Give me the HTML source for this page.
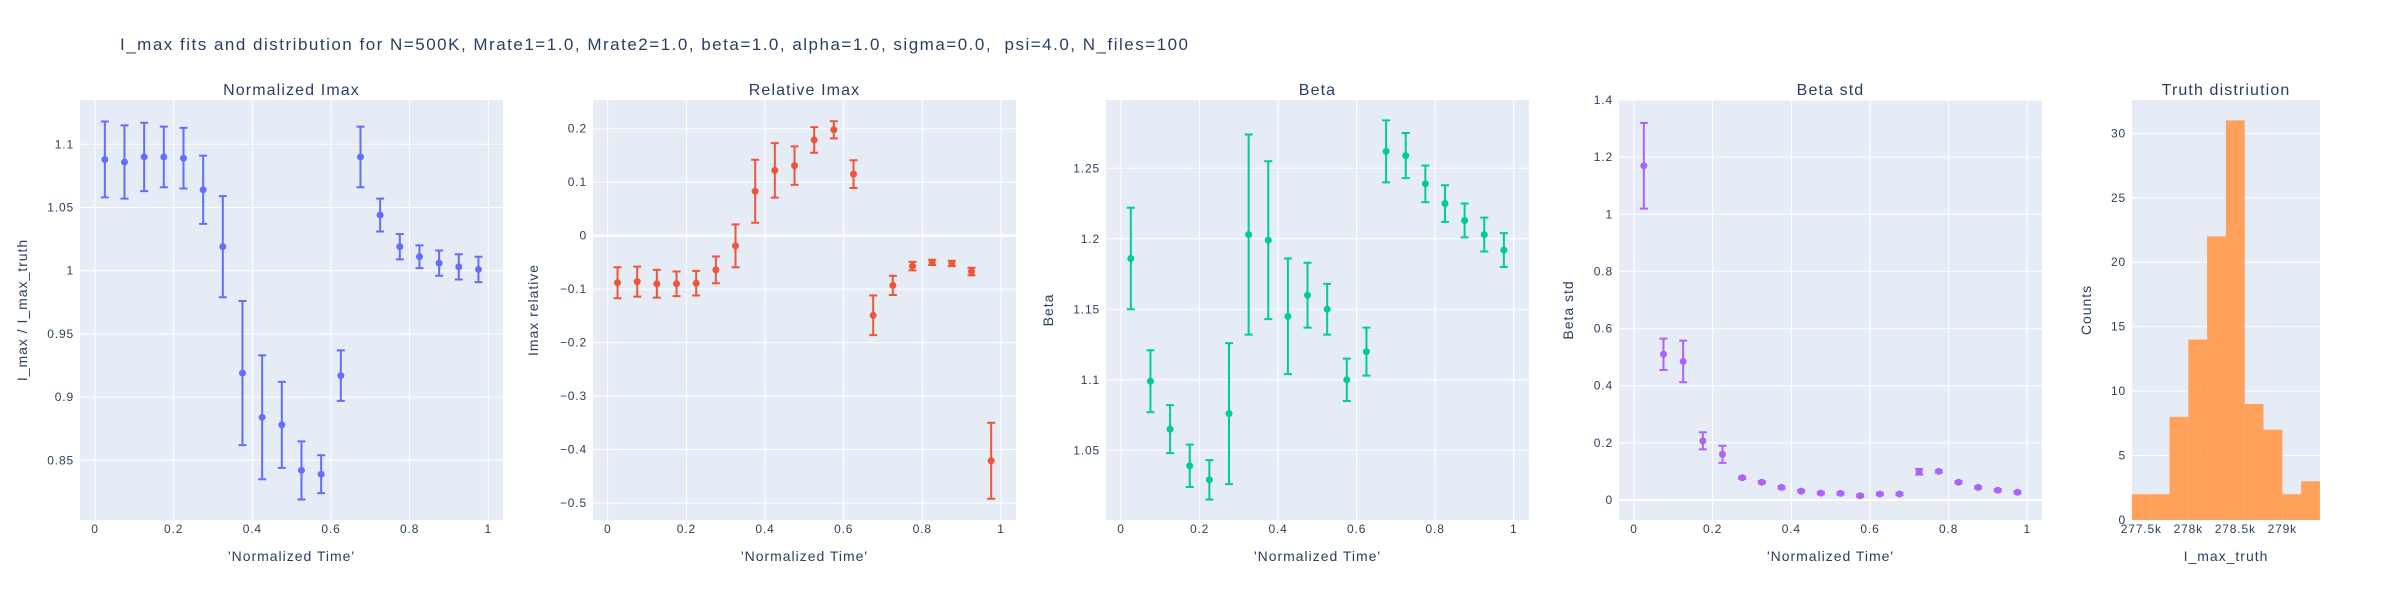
<!DOCTYPE html>
<html><head><meta charset="utf-8"><title>I_max fits</title>
<style>
html,body{margin:0;padding:0;background:#fff;}
svg{display:block;font-family:"Liberation Sans",Arial,sans-serif;}
svg text{letter-spacing:0.07em;}
svg text.main-title{letter-spacing:1.5px;}
</style></head>
<body>
<svg id="chart" width="2400" height="600" viewBox="0 0 2400 600" xmlns="http://www.w3.org/2000/svg">
<text class="main-title" xml:space="preserve" style="white-space:pre" x="120" y="50" font-size="17" fill="#2a3f5f">I_max fits and distribution for N=500K, Mrate1=1.0, Mrate2=1.0, beta=1.0, alpha=1.0, sigma=0.0,  psi=4.0, N_files=100</text>
</svg>
<script>
const timeX = [0.025,0.075,0.125,0.175,0.225,0.275,0.325,0.375,0.425,0.475,0.525,0.575,0.625,0.675,0.725,0.775,0.825,0.875,0.925,0.975];
const normVals = [1.088,1.086,1.090,1.090,1.089,1.064,1.019,0.919,0.884,0.878,0.842,0.839,0.917,1.090,1.044,1.019,1.011,1.006,1.003,1.001];
const normErrs = [0.030,0.029,0.027,0.024,0.024,0.027,0.040,0.057,0.049,0.034,0.023,0.015,0.020,0.024,0.013,0.010,0.009,0.010,0.010,0.010];
const relVals = [-0.088,-0.086,-0.090,-0.090,-0.089,-0.064,-0.019,0.083,0.122,0.131,0.179,0.198,0.115,-0.149,-0.093,-0.057,-0.050,-0.052,-0.067,-0.421];
const relErrs = [0.029,0.028,0.026,0.023,0.023,0.025,0.040,0.059,0.051,0.036,0.024,0.016,0.026,0.037,0.018,0.008,0.005,0.005,0.007,0.071];
const betaVals = [1.186,1.099,1.065,1.039,1.029,1.076,1.203,1.199,1.145,1.160,1.150,1.100,1.120,1.262,1.259,1.239,1.225,1.213,1.203,1.192];
const betaErrs = [0.036,0.022,0.017,0.015,0.014,0.050,0.071,0.056,0.041,0.023,0.018,0.015,0.017,0.022,0.016,0.013,0.013,0.012,0.012,0.012];
const stdVals = [1.17,0.51,0.485,0.207,0.16,0.078,0.062,0.044,0.031,0.024,0.023,0.015,0.021,0.021,0.099,0.100,0.062,0.044,0.034,0.027];
const stdErrs = [0.15,0.055,0.073,0.03,0.03,0.004,0.004,0.004,0.004,0.004,0.004,0.004,0.004,0.004,0.010,0.004,0.004,0.004,0.004,0.004];
const histEdges = [277400,277600,277800,278000,278200,278400,278600,278800,279000,279200,279400];
const histCounts = [2,2,8,14,22,31,9,7,2,3];
const timeTicks = [0,0.2,0.4,0.6,0.8,1];
const timeTickLabels = ["0","0.2","0.4","0.6","0.8","1"];
const normTicks = [0.85,0.9,0.95,1,1.05,1.1];
const normTickLabels = ["0.85","0.9","0.95","1","1.05","1.1"];
const relTicks = [-0.5,-0.4,-0.3,-0.2,-0.1,0,0.1,0.2];
const relTickLabels = ["\u22120.5","\u22120.4","\u22120.3","\u22120.2","\u22120.1","0","0.1","0.2"];
const betaTicks = [1.05,1.1,1.15,1.2,1.25];
const betaTickLabels = ["1.05","1.1","1.15","1.2","1.25"];
const stdTicks = [0,0.2,0.4,0.6,0.8,1,1.2,1.4];
const stdTickLabels = ["0","0.2","0.4","0.6","0.8","1","1.2","1.4"];
const histXTicks = [277500,278000,278500,279000];
const histXTickLabels = ["277.5k","278k","278.5k","279k"];
const histYTicks = [0,5,10,15,20,25,30];
const histYTickLabels = ["0","5","10","15","20","25","30"];

const NS="http://www.w3.org/2000/svg";
const svg=document.getElementById('chart');
function mk(tag,attrs,parent){const e=document.createElementNS(NS,tag);for(const k in attrs)e.setAttribute(k,attrs[k]);(parent||svg).appendChild(e);return e;}
function lin(d0,d1,r0,r1){return v=>r0+(v-d0)/(d1-d0)*(r1-r0);}

function panel(cfg){
  const g=mk('g',{});
  
  
  const bg=mk('rect',{x:cfg.l,y:100,width:cfg.r-cfg.l,height:420,fill:'#e5ecf6'},g);
  
  
  const sx=lin(cfg.xd[0],cfg.xd[1],cfg.xr[0],cfg.xr[1]);
  const sy=lin(cfg.yd[0],cfg.yd[1],cfg.yr[0],cfg.yr[1]);
  cfg.xTicks.forEach((t,i)=>{
    const x=sx(t);
    if(cfg.xgrid){const l=mk('line',{x1:x,x2:x,y1:100,y2:520,stroke:'#fff','stroke-width':1},g);
      
      }
    const tx=mk('text',{x:x,y:533,'font-size':12,fill:'#2a3f5f','text-anchor':'middle'},g);
    tx.textContent=cfg.xLabels[i];
    
    
  });
  cfg.yTicks.forEach((t,i)=>{
    const y=sy(t);
    const l=mk('line',{x1:cfg.l,x2:cfg.r,y1:y,y2:y,stroke:'#fff','stroke-width':(t===0&&cfg.zero)?2:1},g);
    
    
    const tx=mk('text',{x:cfg.l-6,y:y+4,'font-size':12,fill:'#2a3f5f','text-anchor':'end'},g);
    tx.textContent=cfg.yLabels[i];
    
    
  });
  const st=mk('text',{x:(cfg.l+cfg.r)/2,y:95,'font-size':16,fill:'#2a3f5f','text-anchor':'middle'},g);
  st.textContent=cfg.title;
  
  
  const xt=mk('text',{x:(cfg.l+cfg.r)/2,y:561,'font-size':14,fill:'#2a3f5f','text-anchor':'middle'},g);
  xt.textContent=cfg.xTitle;
  
  
  const yt=mk('text',{x:0,y:0,'font-size':14,fill:'#2a3f5f','text-anchor':'middle',transform:`translate(${cfg.ytx},310) rotate(-90)`},g);
  yt.textContent=cfg.yTitle;
  
  
  return {g,sx,sy};
}

function errPanel(cfg,vals,errs,color){
  const p=panel(cfg);
  timeX.forEach((xv,i)=>{
    const x=p.sx(xv),yc=p.sy(vals[i]),y1=p.sy(vals[i]+errs[i]),y2=p.sy(vals[i]-errs[i]);
    const e=mk('path',{d:`M${x},${y1}V${y2}M${x-4},${y1}H${x+4}M${x-4},${y2}H${x+4}`,stroke:color,'stroke-width':2,fill:'none'},p.g);
    
    
    const c=mk('circle',{cx:x,cy:yc,r:3.5,fill:color},p.g);
    
    
  });
}

errPanel({name:'normalized-imax',l:80,r:503,xd:[0,1],xr:[95,488.3],yd:[0.85,1.1],yr:[460.3,144.3],xTicks:timeTicks,xLabels:timeTickLabels,yTicks:normTicks,yLabels:normTickLabels,xgrid:true,title:'Normalized Imax',xTitle:"'Normalized Time'",yTitle:'I_max / I_max_truth',ytx:27},normVals,normErrs,'#636efa');
errPanel({name:'relative-imax',l:593,r:1016,xd:[0,1],xr:[607.7,1001],yd:[-0.5,0.2],yr:[503,128.7],xTicks:timeTicks,xLabels:timeTickLabels,yTicks:relTicks,yLabels:relTickLabels,xgrid:true,zero:true,title:'Relative Imax',xTitle:"'Normalized Time'",yTitle:'Imax relative',ytx:538},relVals,relErrs,'#EF553B');
errPanel({name:'beta',l:1106,r:1529,xd:[0,1],xr:[1121,1513.7],yd:[1.05,1.25],yr:[450.3,168.3],xTicks:timeTicks,xLabels:timeTickLabels,yTicks:betaTicks,yLabels:betaTickLabels,xgrid:true,title:'Beta',xTitle:"'Normalized Time'",yTitle:'Beta',ytx:1053},betaVals,betaErrs,'#00cc96');
errPanel({name:'beta-std',l:1619,r:2042,xd:[0,1],xr:[1634,2027.3],yd:[0,1.4],yr:[500,100],xTicks:timeTicks,xLabels:timeTickLabels,yTicks:stdTicks,yLabels:stdTickLabels,xgrid:true,zero:true,title:'Beta std',xTitle:"'Normalized Time'",yTitle:'Beta std',ytx:1573},stdVals,stdErrs,'#ab63fa');

const hp=panel({name:'truth-distribution',l:2132,r:2320,xd:[277500,279000],xr:[2141.3,2282.3],yd:[0,30],yr:[520,133.3],xTicks:histXTicks,xLabels:histXTickLabels,yTicks:histYTicks,yLabels:histYTickLabels,xgrid:false,title:'Truth distriution',xTitle:'I_max_truth',yTitle:'Counts',ytx:2091});
histCounts.forEach((c,i)=>{
  const x0=hp.sx(histEdges[i]),x1=hp.sx(histEdges[i+1]),y=hp.sy(c);
  const r=mk('rect',{x:x0,y:y,width:x1-x0,height:hp.sy(0)-y,fill:'#FFA15A'},hp.g);
  
  
});
</script>
</body></html>
